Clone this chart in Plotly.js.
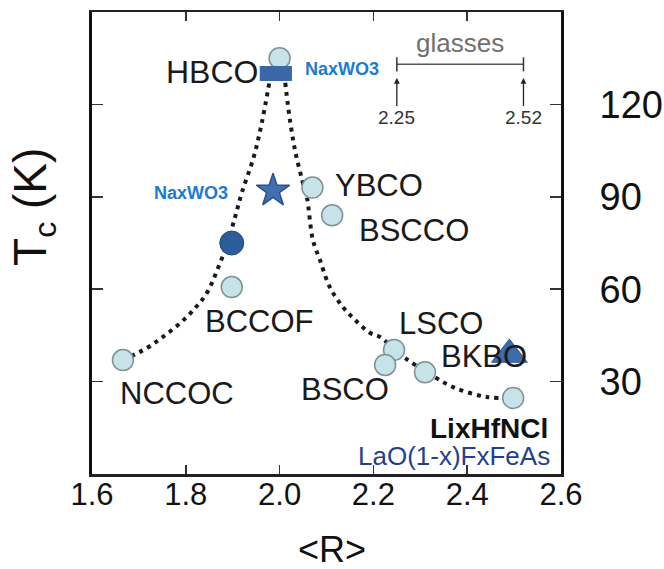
<!DOCTYPE html>
<html>
<head>
<meta charset="utf-8">
<script src="https://cdn.plot.ly/plotly-3.0.1.min.js"></script>
<style>html,body{margin:0;padding:0;background:#fff;}#chart{width:664px;height:569px;}</style>
</head>
<body>
<div id="chart"></div>
<script>
// ---- data ----
var compoundNames = ['HBCO', 'YBCO', 'BSCCO', 'BCCOF', 'NCCOC', 'LSCO', 'BSCO', 'BKBO', 'LixHfNCl'];
var compoundR     = [2.00, 2.07, 2.112, 1.898, 1.666, 2.244, 2.225, 2.31, 2.498];
var compoundTc    = [135, 93, 84, 60.7, 37, 40.3, 35.4, 33, 24.7];

var naxwo3RectR = [1.992];  var naxwo3RectTc = [130];
var naxwo3StarR = [1.986];  var naxwo3StarTc = [92];
var lixhfnclR   = [1.898];  var lixhfnclTc   = [75];
var lafeasR     = [2.49];   var lafeasTc     = [38.8];

var curveLeftR  = [1.666, 1.717, 1.751, 1.788, 1.820, 1.845, 1.873, 1.888, 1.905, 1.920, 1.945, 1.962, 1.978];
var curveLeftTc = [37, 40.9, 44.5, 49, 53.9, 58.8, 68.5, 74.4, 83.4, 91.6, 103, 114, 127];
var curveRightR  = [2.012, 2.022, 2.033, 2.048, 2.058, 2.071, 2.086, 2.107, 2.135, 2.161, 2.193, 2.214, 2.240, 2.267, 2.314, 2.370, 2.442, 2.498];
var curveRightTc = [127, 115, 105, 95.5, 90, 76, 69.5, 60.7, 54.2, 50, 45.8, 44.5, 41.2, 37.7, 33.1, 28.2, 25, 24.7];

var glassRange = [2.25, 2.52];
var xTickVals = [1.6, 1.8, 2.0, 2.2, 2.4, 2.6];
var xTickText = ['1.6', '1.8', '2.0', '2.2', '2.4', '2.6'];
var yTickVals = [30, 60, 90, 120];
var yTickText = ['30', '60', '90', '120'];

// ---- styles ----
var FONT = 'Liberation Sans, Arial, Helvetica, sans-serif';
var txt = '#1a1a1a';

var traces = [
  {x: curveLeftR, y: curveLeftTc, mode: 'lines', line: {shape: 'spline', dash: '4px,5px', width: 4, color: '#1a1a1a'}, hoverinfo: 'skip'},
  {x: curveRightR, y: curveRightTc, mode: 'lines', line: {shape: 'spline', dash: '4px,5px', width: 4, color: '#1a1a1a'}, hoverinfo: 'skip'},
  {x: compoundR, y: compoundTc, text: compoundNames, mode: 'markers',
   marker: {symbol: 'circle', size: 21, color: '#c6e3e7', line: {color: '#7f9196', width: 1.5}}},
  {x: lixhfnclR, y: lixhfnclTc, mode: 'markers',
   marker: {symbol: 'circle', size: 24, color: '#2d5c9b', line: {color: '#24497c', width: 1}}},
  {x: naxwo3StarR, y: naxwo3StarTc, mode: 'markers',
   marker: {symbol: 'star', size: 25, color: '#4270b0', line: {color: '#2a5189', width: 1.5}}},
  {x: naxwo3RectR, y: naxwo3RectTc, mode: 'markers',
   marker: {symbol: 'line-ew', size: 23, line: {color: '#3a67a8', width: 15}}},
  {x: lafeasR, y: lafeasTc, mode: 'markers',
   marker: {symbol: 'triangle-up', size: 31, color: '#3d6cac', line: {color: '#2e5790', width: 1}}}
];

function lab(text, x, y, xanchor, size, color, bold) {
  return {text: bold ? '<b>' + text + '</b>' : text, x: x, y: y, xref: 'x', yref: 'y',
          xanchor: xanchor, yanchor: 'middle', showarrow: false,
          font: {family: FONT, size: size, color: color}};
}

var annotations = [
  lab('HBCO', 1.958, 130.5, 'right', 32, txt),
  lab('YBCO', 2.114, 93.8, 'left', 31, txt),
  lab('BSCCO', 2.165, 78.9, 'left', 31, txt),
  lab('BCCOF', 1.958, 49.4, 'center', 31, txt),
  lab('NCCOC', 1.782, 26.3, 'center', 31, txt),
  lab('BSCO', 2.139, 27.3, 'center', 31, txt),
  lab('LSCO', 2.344, 49, 'center', 31, txt),
  lab('BKBO', 2.436, 38, 'center', 31, txt),
  lab('NaxWO3', 2.05, 131.5, 'left', 18, '#1c7bd0', true),
  lab('NaxWO3', 1.894, 91.2, 'right', 18, '#1c7bd0', true),
  lab('LixHfNCl', 2.577, 14.9, 'right', 28, '#111111', true),
  lab('LaO(1-x)FxFeAs', 2.581, 5.8, 'right', 26, '#233f8e'),
  lab('glasses', (glassRange[0] + glassRange[1]) / 2, 139.9, 'center', 26, '#707070'),
  {text: String(glassRange[0]), x: glassRange[0], y: 128.6, xref: 'x', yref: 'y', ax: 0, ay: 40,
   showarrow: true, arrowhead: 2, arrowsize: 0.9, arrowwidth: 1.3, arrowcolor: '#222', standoff: 0,
   font: {family: FONT, size: 19, color: '#333'}},
  {text: String(glassRange[1]), x: glassRange[1], y: 128.6, xref: 'x', yref: 'y', ax: 0, ay: 40,
   showarrow: true, arrowhead: 2, arrowsize: 0.9, arrowwidth: 1.3, arrowcolor: '#222', standoff: 0,
   font: {family: FONT, size: 19, color: '#333'}},
  {text: 'T<sub>c</sub> (K)', x: -0.1237, y: 0.578, xref: 'paper', yref: 'paper', textangle: -90,
   xanchor: 'center', yanchor: 'middle', showarrow: false, font: {family: FONT, size: 46, color: '#111'}},
  {text: '&lt;R&gt;', x: 0.512, y: -0.164, xref: 'paper', yref: 'paper',
   xanchor: 'center', yanchor: 'middle', showarrow: false, font: {family: FONT, size: 36, color: '#111'}}
];

var shapes = [
  {type: 'line', xref: 'x', yref: 'y', x0: glassRange[0], x1: glassRange[1], y0: 133, y1: 133, line: {color: '#555', width: 1.5}},
  {type: 'line', xref: 'x', yref: 'y', x0: glassRange[0], x1: glassRange[0], y0: 130.7, y1: 135.3, line: {color: '#333', width: 1.5}},
  {type: 'line', xref: 'x', yref: 'y', x0: glassRange[1], x1: glassRange[1], y0: 130.7, y1: 135.3, line: {color: '#333', width: 1.5}}
];

var layout = {
  width: 664, height: 569, autosize: false,
  margin: {l: 92, r: 103, t: 12, b: 95, pad: 0},
  paper_bgcolor: '#fff', plot_bgcolor: '#fff',
  showlegend: false,
  font: {family: FONT, color: txt},
  xaxis: {range: [1.6, 2.6], tickmode: 'array', tickvals: xTickVals, ticktext: xTickText,
          showgrid: false, zeroline: false, showline: true, linecolor: '#222', linewidth: 2.5, mirror: 'ticks',
          ticks: 'inside', ticklen: 9, tickwidth: 1.5, tickcolor: '#333',
          tickfont: {family: FONT, size: 31, color: '#111'}, ticklabelstandoff: -9},
  yaxis: {range: [0, 150], side: 'right', tickmode: 'array', tickvals: yTickVals, ticktext: yTickText,
          showgrid: false, zeroline: false, showline: true, linecolor: '#111', linewidth: 3, mirror: 'ticks',
          ticks: 'inside', ticklen: 11, tickwidth: 1.5, tickcolor: '#333',
          tickfont: {family: FONT, size: 38, color: '#111'}, ticklabelstandoff: 28},
  annotations: annotations,
  shapes: shapes
};

Plotly.newPlot('chart', traces, layout, {staticPlot: true, displayModeBar: false});
</script>
</body>
</html>
